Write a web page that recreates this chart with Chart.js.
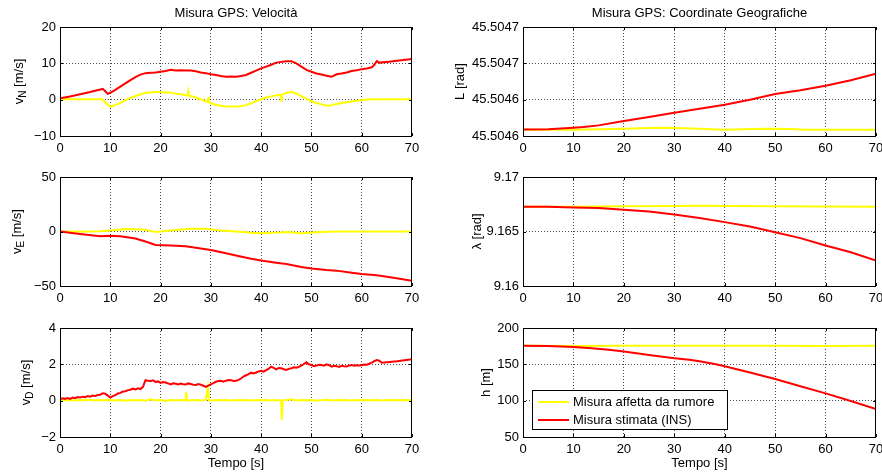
<!DOCTYPE html>
<html>
<head>
<meta charset="utf-8">
<script src="https://cdn.jsdelivr.net/npm/chart.js@4.4.0/dist/chart.umd.min.js"></script>
<style>
  html, body { margin: 0; padding: 0; background: #fff; }
  #fig { position: relative; width: 882px; height: 475px; overflow: hidden; background: #fff; }
  #fig canvas { position: absolute; left: 0; top: 0; }
</style>
</head>
<body>
<div id="fig">
  <canvas id="pVN" width="882" height="475"></canvas>
  <canvas id="pVE" width="882" height="475"></canvas>
  <canvas id="pVD" width="882" height="475"></canvas>
  <canvas id="pL" width="882" height="475"></canvas>
  <canvas id="pLam" width="882" height="475"></canvas>
  <canvas id="pH" width="882" height="475"></canvas>
</div>
<script>
// ---- series labels ----
const LABEL_GPS = 'Misura affetta da rumore';
const LABEL_INS = 'Misura stimata (INS)';

// ---- time axis ----
const timeTicks = [0, 10, 20, 30, 40, 50, 60, 70];

// ---- North velocity v_N [m/s] : [t, value] ----
const vnGps = [[0,0.1],[2,0.1],[4,0.1],[6,0.1],[8,0.1],[8.5,0.1],[9,-0.8],[10,-1.9],[11,-1.5],[12,-0.9],[13,-0.1],[14,0.5],[15,1.0],[16,1.5],[17,1.9],[18,2.0],[19,2.1],[20,2.1],[21,2.0],[22,2.0],[23,1.6],[24,1.5],[25,1.2],[25.4,1.2],[25.5,2.2],[25.6,1.1],[26,1.0],[27,0.6],[28,0.1],[29,-0.5],[29.4,-0.6],[29.5,0.8],[29.6,-0.7],[30,-1.0],[31,-1.4],[32,-1.7],[33,-1.9],[34,-1.9],[35,-1.9],[36,-1.8],[37,-1.5],[38,-1.0],[39,-0.4],[40,0.1],[41,0.6],[42,0.9],[43,1.2],[43.9,1.3],[44,-0.3],[44.1,1.3],[45,1.9],[46,2.1],[47,1.7],[48,1.0],[49,0.3],[50,-0.5],[51,-0.9],[52,-1.3],[53,-1.6],[53.5,-1.7],[54,-1.5],[55,-1.2],[56,-0.9],[57,-0.7],[58,-0.5],[59,-0.3],[60,-0.1],[62,0.1],[64,0.1],[66,0.1],[68,0.1],[70,0.1]];
const vnIns = [[0,0.4],[2,0.9],[4,1.5],[6,2.1],[8,2.8],[8.5,3.0],[9,2.3],[9.5,1.6],[10,1.9],[11,2.7],[12,3.6],[13,4.5],[14,5.4],[15,6.2],[16,6.9],[17,7.3],[18,7.4],[19,7.5],[20,7.7],[21,7.9],[22,8.2],[23,8.0],[24,8.1],[25,8.0],[26,8.0],[27,7.8],[28,7.5],[29,7.3],[30,7.0],[31,6.8],[32,6.5],[33,6.3],[34,6.4],[35,6.3],[36,6.5],[37,6.8],[38,7.4],[39,8.0],[40,8.6],[41,9.1],[42,9.6],[43,10.2],[44,10.4],[45,10.6],[46,10.6],[47,10.0],[48,9.1],[49,8.2],[50,7.7],[51,7.2],[52,6.9],[53,6.6],[54,6.3],[55,7.0],[56,7.2],[57,7.5],[58,7.9],[59,8.1],[60,8.4],[61,8.6],[62,8.9],[62.5,9.6],[63,10.6],[63.5,10.2],[65,10.4],[67,10.7],[70,11.2]];
const vnTicks = [-10, 0, 10, 20];
const vnTickLabels = ['\u221210', '0', '10', '20'];

// ---- East velocity v_E [m/s] ----
const veGps = [[0,0],[5,0],[8,0.2],[10,1.0],[13,2.2],[15,2.0],[17,1.5],[19,-0.5],[22,1.0],[26,2.5],[29,2.6],[32,1.0],[35,0],[38,-1.2],[40,-1.5],[42,-1.2],[44,-1.0],[45,-0.5],[48,-1.5],[52,-0.5],[55,0],[60,0],[70,0]];
const veIns = [[0,0],[4,-2.2],[8,-4.4],[10,-4.0],[12,-4.3],[15,-6.4],[17,-9.2],[19,-12.3],[22,-12.9],[25,-13.5],[28,-15.6],[30,-16.9],[33,-20.0],[35,-22.0],[38,-25.0],[40,-26.7],[43,-28.6],[45,-29.8],[48,-32.5],[50,-34.0],[53,-35.3],[55,-35.9],[58,-37.8],[60,-39.0],[63,-40.2],[66,-42.2],[70,-45.1]];
const veTicks = [-50, 0, 50];
const veTickLabels = ['\u221250', '0', '50'];

// ---- Down velocity v_D [m/s] ----
const vdGps = [[0,0.03],[1,0.02],[2,0.04],[3,0.01],[4,0.03],[5,0.02],[6,0.05],[7,0.01],[8,0.03],[9,0.02],[10,0.04],[11,0.01],[12,0.03],[13,0.0],[14,0.04],[15,0.02],[16,0.03],[17,0.0],[18,0.08],[19,0.02],[20,0.03],[21,-0.02],[22,0.04],[23,0.02],[24,0.03],[25,0.02],[25.1,0.48],[25.3,0.0],[26,0.02],[27,0.03],[28,0.01],[29,0.04],[29.4,0.74],[29.6,0.03],[30,0.0],[31,0.04],[32,0.02],[33,0.03],[34,0.01],[35,0.04],[36,0.02],[37,0.03],[38,0.01],[39,0.03],[40,0.02],[41,0.04],[42,0.01],[43,0.03],[44,0.0],[44.1,-1.05],[44.3,0.02],[45,0.03],[46,0.08],[47,0.01],[48,0.03],[49,0.02],[50,0.04],[51,0.0],[52,0.03],[53,0.05],[54,0.01],[55,0.03],[56,0.02],[57,0.04],[58,0.01],[59,0.03],[60,0.02],[61,0.03],[62,0.02],[63,0.03],[64,0.01],[65,0.03],[66,0.02],[67,0.03],[68,0.02],[69,0.03],[70,0.02]];
const vdIns = [[0,0.08],[0.5,0.13],[1,0.1],[1.5,0.15],[2,0.1],[2.5,0.17],[3,0.14],[3.5,0.2],[4,0.17],[4.5,0.22],[5,0.19],[5.5,0.25],[6,0.22],[6.5,0.28],[7,0.26],[7.5,0.31],[8,0.33],[8.5,0.41],[9,0.38],[9.5,0.28],[10,0.17],[10.5,0.25],[11,0.3],[11.5,0.4],[12,0.43],[12.5,0.5],[13,0.52],[13.5,0.58],[14,0.6],[14.5,0.66],[15,0.62],[15.5,0.68],[16,0.64],[16.5,0.76],[17,1.13],[17.5,1.1],[18,1.08],[18.5,1.12],[19,1.03],[19.5,1.06],[20,0.98],[20.5,1.03],[21,1.0],[21.5,0.95],[22,0.9],[22.5,0.96],[23,0.93],[23.5,0.89],[24,0.94],[24.5,0.9],[25,0.89],[25.5,0.95],[26,0.92],[26.5,0.88],[27,0.86],[27.5,0.91],[28,0.88],[28.5,0.82],[29,0.76],[29.5,0.83],[30,0.9],[30.5,0.97],[31,1.04],[31.5,1.08],[32,1.09],[32.5,1.05],[33,1.1],[33.5,1.14],[34,1.13],[34.5,1.08],[35,1.09],[35.5,1.14],[36,1.22],[36.5,1.33],[37,1.4],[37.5,1.46],[38,1.54],[38.5,1.5],[39,1.55],[39.5,1.61],[40,1.65],[40.5,1.6],[41,1.68],[41.5,1.76],[42,1.87],[42.5,1.8],[43,1.72],[43.5,1.8],[44,1.78],[44.5,1.73],[45,1.69],[45.5,1.75],[46,1.78],[46.5,1.84],[47,1.81],[47.5,1.86],[48,1.93],[48.5,2.02],[49,2.11],[49.5,2.0],[50,1.96],[50.5,1.9],[51,1.93],[51.5,1.98],[52,1.96],[52.5,1.92],[53,2.0],[53.5,1.95],[54,1.87],[54.5,1.92],[55,1.9],[55.5,1.86],[56,1.92],[56.5,1.89],[57,1.88],[57.5,1.93],[58,1.96],[58.5,1.92],[59,1.95],[59.5,1.93],[60,1.95],[60.5,1.99],[61,1.98],[61.5,2.03],[62,2.09],[62.5,2.18],[63,2.24],[63.5,2.2],[64,2.09],[67,2.17],[70,2.28]];
const vdTicks = [-2, 0, 2, 4];
const vdTickLabels = ['\u22122', '0', '2', '4'];

// ---- Latitude L [rad] ----
const latGps = [[0,45.5045870],[10,45.5045870],[15,45.5045873],[20,45.5045881],[25,45.5045888],[28,45.5045890],[32,45.5045884],[36,45.5045877],[40,45.5045870],[45,45.5045876],[49,45.5045881],[53,45.5045877],[56,45.5045870],[70,45.5045870]];
const latIns = [[0,45.5045872],[5,45.5045874],[10,45.5045892],[12,45.5045899],[15,45.5045917],[20,45.5045965],[25,45.5046009],[30,45.5046057],[35,45.5046101],[40,45.5046145],[45,45.5046200],[50,45.5046262],[55,45.5046303],[60,45.5046354],[65,45.5046413],[70,45.5046486]];
const latTicks = [45.50458, 45.50462, 45.50466, 45.50470];
const latTickLabels = ['45.5046', '45.5046', '45.5047', '45.5047'];

// ---- Longitude lambda [rad] ----
const lonGps = [[0,9.16727],[10,9.16728],[20,9.16731],[30,9.16735],[35,9.16736],[40,9.16735],[50,9.16731],[60,9.16729],[70,9.16727]];
const lonIns = [[0,9.16727],[5,9.16726],[10,9.16721],[15,9.16715],[20,9.16699],[25,9.16684],[30,9.16656],[35,9.16623],[40,9.16586],[45,9.16546],[50,9.16494],[55,9.16439],[60,9.16371],[65,9.16310],[70,9.16233]];
const lonTicks = [9.16, 9.165, 9.17];
const lonTickLabels = ['9.16', '9.165', '9.17'];

// ---- Height h [m] ----
const hGps = [[0,175.5],[10,175.4],[20,175.5],[30,175.6],[40,175.5],[50,175.5],[60,175.4],[70,175.5]];
const hIns = [[0,175.5],[5,175.2],[10,174.0],[13,172.5],[17,170.0],[20,167.5],[25,162.8],[30,158.5],[33,156.2],[35,154.2],[38,150.4],[40,147.3],[45,138.8],[50,129.9],[55,119.8],[60,110.0],[65,99.5],[70,88.3]];
const hTicks = [50, 100, 150, 200];
const hTickLabels = ['50', '100', '150', '200'];

// ---- figure styling ----
const W = 882, H = 475;
const FONT = "'Liberation Sans', Arial, Helvetica, sans-serif";
const COL_GPS = '#ffff00';
const COL_INS = '#ff0000';
const X_AXIS_H = 26;

Chart.defaults.font.family = FONT;
Chart.defaults.font.size = 13;
Chart.defaults.color = '#000';

// axes boxes (pixel frame of each plot area)
const LEFT = { l: 60, r: 412 };
const RIGHT = { l: 523, r: 876 };
const ROWS = [{ t: 27, b: 136 }, { t: 177, b: 286 }, { t: 328, b: 437 }];

function drawRotatedLabel(ctx, parts, cx, cy) {
  ctx.save();
  ctx.translate(cx, cy);
  ctx.rotate(-Math.PI / 2);
  ctx.textAlign = 'left';
  ctx.textBaseline = 'middle';
  ctx.fillStyle = '#000';
  const mainFont = '13px ' + FONT, subFont = '10px ' + FONT;
  let total = 0;
  parts.forEach(p => { ctx.font = p.sub ? subFont : mainFont; total += ctx.measureText(p.text).width; });
  let x = -total / 2;
  parts.forEach(p => {
    ctx.font = p.sub ? subFont : mainFont;
    ctx.fillText(p.text, x, p.sub ? 4 : 0);
    x += ctx.measureText(p.text).width;
  });
  ctx.restore();
}

// frame, inward ticks, titles, axis labels and legend
const framePlugin = {
  id: 'matFrame',
  afterDatasetsDraw(chart) {
    const { ctx, chartArea: a, scales } = chart;
    ctx.save();
    ctx.strokeStyle = '#000';
    ctx.lineWidth = 1;
    ctx.strokeRect(Math.round(a.left) + 0.5, Math.round(a.top) + 0.5, Math.round(a.right - a.left) - 1, Math.round(a.bottom - a.top));
    const tl = 3;
    ctx.beginPath();
    scales.x.ticks.forEach(t => {
      const px = Math.round(scales.x.getPixelForValue(t.value)) + 0.5;
      ctx.moveTo(px, a.bottom); ctx.lineTo(px, a.bottom - tl);
      ctx.moveTo(px, a.top); ctx.lineTo(px, a.top + tl);
    });
    scales.y.ticks.forEach(t => {
      const py = Math.round(scales.y.getPixelForValue(t.value)) + 0.5;
      ctx.moveTo(a.left, py); ctx.lineTo(a.left + tl, py);
      ctx.moveTo(a.right, py); ctx.lineTo(a.right - tl, py);
    });
    ctx.stroke();
    ctx.restore();
  },
  afterDraw(chart, args, opts) {
    const { ctx, chartArea: a } = chart;
    const cx = (a.left + a.right) / 2;
    ctx.save();
    ctx.fillStyle = '#000';
    ctx.font = '13px ' + FONT;
    ctx.textAlign = 'center';
    ctx.textBaseline = 'middle';
    if (opts.title) ctx.fillText(opts.title, cx, 13);
    if (opts.xTitle) ctx.fillText(opts.xTitle, cx, 463);
    ctx.restore();
    if (opts.yLabel) drawRotatedLabel(ctx, opts.yLabel, opts.yLabelX, (a.top + a.bottom) / 2);
    if (opts.legend) {
      const L = opts.legend;
      ctx.save();
      ctx.fillStyle = '#fff';
      ctx.fillRect(L.x, L.y, L.w, L.h);
      ctx.strokeStyle = '#000';
      ctx.lineWidth = 1;
      ctx.strokeRect(L.x + 0.5, L.y + 0.5, L.w, L.h);
      ctx.font = '13px ' + FONT;
      ctx.textAlign = 'left';
      ctx.textBaseline = 'middle';
      chart.data.datasets.forEach((ds, i) => {
        const y = L.y + 12 + i * 18;
        ctx.strokeStyle = ds.borderColor;
        ctx.lineWidth = 2;
        ctx.beginPath();
        ctx.moveTo(L.x + 6, y); ctx.lineTo(L.x + 37, y);
        ctx.stroke();
        ctx.fillStyle = '#000';
        ctx.fillText(ds.label, L.x + 41, y);
      });
      ctx.restore();
    }
  }
};

function gridColor(n) {
  return c => (c.index === 0 || c.index === n - 1) ? 'rgba(0,0,0,0)' : 'rgba(40,40,40,0.85)';
}

function makePanel(id, p) {
  const box = { l: p.col.l, r: p.col.r, t: p.row.t, b: p.row.b };
  return new Chart(document.getElementById(id), {
    type: 'line',
    data: {
      datasets: [
        { label: LABEL_GPS, data: p.gps.map(([x, y]) => ({ x, y })), borderColor: COL_GPS, backgroundColor: COL_GPS, borderWidth: 2, pointRadius: 0, tension: 0, order: 1 },
        { label: LABEL_INS, data: p.ins.map(([x, y]) => ({ x, y })), borderColor: COL_INS, backgroundColor: COL_INS, borderWidth: 2, pointRadius: 0, tension: 0, order: 0 }
      ]
    },
    options: {
      responsive: false,
      animation: false,
      devicePixelRatio: 1,
      events: [],
      layout: { padding: { left: box.l - p.yW, top: box.t, right: W - box.r, bottom: H - box.b - X_AXIS_H } },
      plugins: {
        legend: { display: false },
        tooltip: { enabled: false },
        title: { display: false },
        matFrame: { title: p.title, xTitle: p.xTitle, yLabel: p.yLabel, yLabelX: p.yLabelX, legend: p.legend }
      },
      scales: {
        x: {
          type: 'linear', min: 0, max: 70,
          afterBuildTicks: s => { s.ticks = timeTicks.map(v => ({ value: v })); },
          afterFit: s => { s.height = X_AXIS_H; s.paddingLeft = 0; s.paddingRight = 0; },
          ticks: { padding: 5, maxRotation: 0, autoSkip: false, font: { size: 13 }, callback: v => String(v) },
          grid: { drawTicks: false, color: gridColor(timeTicks.length), lineWidth: 1 },
          border: { display: false, dash: [1, 2] }
        },
        y: {
          type: 'linear', min: p.yMin, max: p.yMax,
          afterBuildTicks: s => { s.ticks = p.yTicks.map(v => ({ value: v })); },
          afterFit: s => { s.width = p.yW; s.paddingTop = 0; s.paddingBottom = 0; },
          ticks: { padding: 4, autoSkip: false, font: { size: 13 }, callback: (v, i) => p.yTickLabels[i] },
          grid: { drawTicks: false, color: gridColor(p.yTicks.length), lineWidth: 1 },
          border: { display: false, dash: [1, 2] }
        }
      }
    },
    plugins: [framePlugin]
  });
}

makePanel('pVN', {
  col: LEFT, row: ROWS[0], yW: 50, gps: vnGps, ins: vnIns,
  yMin: -10, yMax: 20, yTicks: vnTicks, yTickLabels: vnTickLabels,
  title: 'Misura GPS: Velocità', yLabelX: 19,
  yLabel: [{ text: 'v' }, { text: 'N', sub: true }, { text: ' [m/s]' }]
});
makePanel('pVE', {
  col: LEFT, row: ROWS[1], yW: 50, gps: veGps, ins: veIns,
  yMin: -50, yMax: 50, yTicks: veTicks, yTickLabels: veTickLabels,
  yLabelX: 17,
  yLabel: [{ text: 'v' }, { text: 'E', sub: true }, { text: ' [m/s]' }]
});
makePanel('pVD', {
  col: LEFT, row: ROWS[2], yW: 50, gps: vdGps, ins: vdIns,
  yMin: -2, yMax: 4, yTicks: vdTicks, yTickLabels: vdTickLabels,
  xTitle: 'Tempo [s]', yLabelX: 26,
  yLabel: [{ text: 'v' }, { text: 'D', sub: true }, { text: ' [m/s]' }]
});
makePanel('pL', {
  col: RIGHT, row: ROWS[0], yW: 70, gps: latGps, ins: latIns,
  yMin: 45.50458, yMax: 45.5047, yTicks: latTicks, yTickLabels: latTickLabels,
  title: 'Misura GPS: Coordinate Geografiche', yLabelX: 460,
  yLabel: [{ text: 'L [rad]' }]
});
makePanel('pLam', {
  col: RIGHT, row: ROWS[1], yW: 70, gps: lonGps, ins: lonIns,
  yMin: 9.16, yMax: 9.17, yTicks: lonTicks, yTickLabels: lonTickLabels,
  yLabelX: 477,
  yLabel: [{ text: '\u03bb [rad]' }]
});
makePanel('pH', {
  col: RIGHT, row: ROWS[2], yW: 70, gps: hGps, ins: hIns,
  yMin: 50, yMax: 200, yTicks: hTicks, yTickLabels: hTickLabels,
  xTitle: 'Tempo [s]', yLabelX: 486,
  yLabel: [{ text: 'h [m]' }],
  legend: { x: 532, y: 390, w: 195, h: 39 }
});
</script>
</body>
</html>
